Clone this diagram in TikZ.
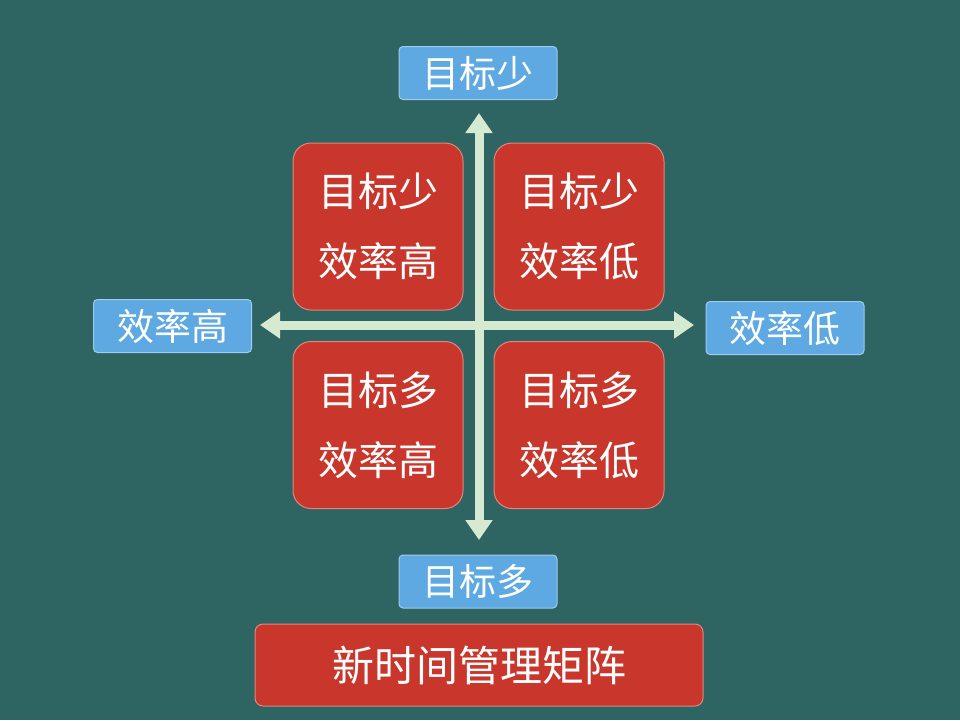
\documentclass[tikz,border=0pt]{standalone}
\usepackage{fontspec}
\setmainfont{Noto Sans CJK SC}
\usetikzlibrary{arrows.meta}
\definecolor{bg}{HTML}{2E6461}
\definecolor{qred}{HTML}{C9372C}
\definecolor{lblue}{HTML}{5EA9E2}
\definecolor{agreen}{HTML}{D6EAD2}
\tikzset{
 quad/.style={draw=qred!60!white,line width=1pt,fill=qred,rounded corners=18pt,minimum width=170pt,minimum height=167pt,text=white,font=\fontsize{40pt}{70pt}\selectfont,align=center,inner sep=0pt},
 lab/.style={draw=lblue!60!white,line width=1pt,fill=lblue,rounded corners=4pt,minimum width=158pt,minimum height=53pt,text=white,font=\fontsize{37pt}{40pt}\selectfont,inner sep=0pt},
 ax/.style={agreen,line width=9pt,-{Triangle[length=20pt,width=26pt]}}
}
\begin{document}
\begin{tikzpicture}[x=1pt,y=-1pt]
\fill[bg] (0,0) rectangle (960,720);
\useasboundingbox (0,0) rectangle (960,720);
\coordinate (c) at (479,325);
\coordinate (up) at (479,113);
\coordinate (dn) at (479,540);
\coordinate (lf) at (260,325);
\coordinate (rt) at (694,325);
\draw[ax] (c) -- (up);
\draw[ax] (c) -- (dn);
\draw[ax] (c) -- (lf);
\draw[ax] (c) -- (rt);
\node[quad] (q1) at (378,226.5) {目标少\\效率高};
\node[quad] (q2) at (579,226.5) {目标少\\效率低};
\node[quad] (q3) at (378,425) {目标多\\效率高};
\node[quad] (q4) at (579,425) {目标多\\效率低};
\node[lab] (t) at (478,73) {目标少};
\node[lab] (l) at (172.5,326) {效率高};
\node[lab] (r) at (785,328) {效率低};
\node[lab] (b) at (478,581.5) {目标多};
\node[quad,rounded corners=8pt,minimum width=448pt,minimum height=82pt,font=\fontsize{42pt}{50pt}\selectfont] (title) at (479,665) {新时间管理矩阵};
\end{tikzpicture}
\end{document}
